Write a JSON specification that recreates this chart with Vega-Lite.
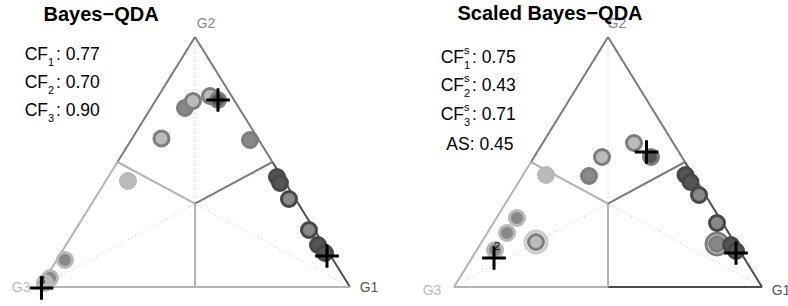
{
  "$schema": "https://vega.github.io/schema/vega-lite/v6.json",
  "padding": 0,
  "background": "white",
  "spacing": 0,
  "bounds": "flush",
  "config": {"view": {"stroke": null}, "font": "Liberation Sans"},
  "datasets": {
    "segs": [
      {"panel": "L", "kind": "edge", "cls": "G3", "x": 0, "y": 0, "x2": 0.25, "y2": 0.5},
      {"panel": "L", "kind": "edge", "cls": "G2", "x": 0.25, "y": 0.5, "x2": 0.5, "y2": 1},
      {"panel": "L", "kind": "edge", "cls": "G2", "x": 0.5, "y": 1, "x2": 0.75, "y2": 0.5},
      {"panel": "L", "kind": "edge", "cls": "G1", "x": 0.75, "y": 0.5, "x2": 1, "y2": 0},
      {"panel": "L", "kind": "edge", "cls": "G3", "x": 1, "y": 0, "x2": 0.5, "y2": 0},
      {"panel": "L", "kind": "edge", "cls": "G3", "x": 0.5, "y": 0, "x2": 0, "y2": 0},
      {"panel": "L", "kind": "inner", "cls": "G3", "x": 0.5, "y": 0.3333, "x2": 0.25, "y2": 0.5},
      {"panel": "L", "kind": "inner", "cls": "G2", "x": 0.5, "y": 0.3333, "x2": 0.75, "y2": 0.5},
      {"panel": "L", "kind": "inner", "cls": "G3", "x": 0.5, "y": 0.3333, "x2": 0.5, "y2": 0},
      {"panel": "L", "kind": "dot", "cls": "G3", "x": 0.5, "y": 1, "x2": 0.5, "y2": 0.3333},
      {"panel": "L", "kind": "dot", "cls": "G3", "x": 0, "y": 0, "x2": 0.5, "y2": 0.3333},
      {"panel": "L", "kind": "dot", "cls": "G3", "x": 1, "y": 0, "x2": 0.5, "y2": 0.3333},
      {"panel": "R", "kind": "edge", "cls": "G3", "x": 0, "y": 0, "x2": 0.25, "y2": 0.5},
      {"panel": "R", "kind": "edge", "cls": "G2", "x": 0.25, "y": 0.5, "x2": 0.5, "y2": 1},
      {"panel": "R", "kind": "edge", "cls": "G2", "x": 0.5, "y": 1, "x2": 0.75, "y2": 0.5},
      {"panel": "R", "kind": "edge", "cls": "G1", "x": 0.75, "y": 0.5, "x2": 1, "y2": 0},
      {"panel": "R", "kind": "edge", "cls": "G1", "x": 1, "y": 0, "x2": 0.5, "y2": 0},
      {"panel": "R", "kind": "edge", "cls": "G3", "x": 0.5, "y": 0, "x2": 0, "y2": 0},
      {"panel": "R", "kind": "inner", "cls": "G3", "x": 0.5, "y": 0.3333, "x2": 0.25, "y2": 0.5},
      {"panel": "R", "kind": "inner", "cls": "G2", "x": 0.5, "y": 0.3333, "x2": 0.75, "y2": 0.5},
      {"panel": "R", "kind": "inner", "cls": "G3", "x": 0.5, "y": 0.3333, "x2": 0.5, "y2": 0},
      {"panel": "R", "kind": "dot", "cls": "G3", "x": 0.5, "y": 1, "x2": 0.5, "y2": 0.3333},
      {"panel": "R", "kind": "dot", "cls": "G3", "x": 0, "y": 0, "x2": 0.5, "y2": 0.3333},
      {"panel": "R", "kind": "dot", "cls": "G3", "x": 1, "y": 0, "x2": 0.5, "y2": 0.3333}
    ],
    "points": [
      {"panel": "L", "x": 0.4677, "y": 0.716, "pred": "G2", "truth": "G2"},
      {"panel": "L", "x": 0.4935, "y": 0.744, "pred": "G3", "truth": "G2"},
      {"panel": "L", "x": 0.5484, "y": 0.764, "pred": "G3", "truth": "G2"},
      {"panel": "L", "x": 0.5742, "y": 0.748, "pred": "G1", "truth": "G2"},
      {"panel": "L", "x": 0.3919, "y": 0.594, "pred": "G3", "truth": "G2"},
      {"panel": "L", "x": 0.6774, "y": 0.588, "pred": "G2", "truth": "G2"},
      {"panel": "L", "x": 0.2839, "y": 0.424, "pred": "G3", "truth": "G3"},
      {"panel": "L", "x": 0.7645, "y": 0.44, "pred": "G1", "truth": "G1"},
      {"panel": "L", "x": 0.7742, "y": 0.416, "pred": "G1", "truth": "G1"},
      {"panel": "L", "x": 0.8032, "y": 0.352, "pred": "G2", "truth": "G1"},
      {"panel": "L", "x": 0.8677, "y": 0.228, "pred": "G2", "truth": "G1"},
      {"panel": "L", "x": 0.8968, "y": 0.168, "pred": "G1", "truth": "G1"},
      {"panel": "L", "x": 0.9194, "y": 0.136, "pred": "G1", "truth": "G1"},
      {"panel": "L", "x": 0.0806, "y": 0.108, "pred": "G2", "truth": "G3"},
      {"panel": "L", "x": 0.0323, "y": 0.036, "pred": "G2", "truth": "G3"},
      {"panel": "L", "x": 0.0161, "y": 0.016, "pred": "G3", "truth": "G3"},
      {"panel": "R", "x": 0.5844, "y": 0.576, "pred": "G3", "truth": "G2"},
      {"panel": "R", "x": 0.6396, "y": 0.52, "pred": "G1", "truth": "G2"},
      {"panel": "R", "x": 0.4805, "y": 0.52, "pred": "G3", "truth": "G2"},
      {"panel": "R", "x": 0.4383, "y": 0.444, "pred": "G2", "truth": "G2"},
      {"panel": "R", "x": 0.2987, "y": 0.448, "pred": "G3", "truth": "G3"},
      {"panel": "R", "x": 0.7516, "y": 0.448, "pred": "G1", "truth": "G1"},
      {"panel": "R", "x": 0.7679, "y": 0.42, "pred": "G1", "truth": "G1"},
      {"panel": "R", "x": 0.7955, "y": 0.368, "pred": "G2", "truth": "G1"},
      {"panel": "R", "x": 0.8539, "y": 0.256, "pred": "G2", "truth": "G1"},
      {"panel": "R", "x": 0.8539, "y": 0.172, "pred": "G2", "truth": "G2", "halo": "G1"},
      {"panel": "R", "x": 0.8994, "y": 0.168, "pred": "G1", "truth": "G1"},
      {"panel": "R", "x": 0.9156, "y": 0.144, "pred": "G1", "truth": "G1"},
      {"panel": "R", "x": 0.2045, "y": 0.276, "pred": "G2", "truth": "G3"},
      {"panel": "R", "x": 0.1721, "y": 0.216, "pred": "G2", "truth": "G3"},
      {"panel": "R", "x": 0.1331, "y": 0.148, "pred": "G2", "truth": "G3"},
      {"panel": "R", "x": 0.2662, "y": 0.18, "pred": "G3", "truth": "G2", "halo": "G3"}
    ],
    "crosses": [
      {"panel": "L", "x": 0.5742, "y": 0.748},
      {"panel": "L", "x": 0.9258, "y": 0.124},
      {"panel": "L", "x": 0.0048, "y": -0.004},
      {"panel": "R", "x": 0.625, "y": 0.54},
      {"panel": "R", "x": 0.9156, "y": 0.136},
      {"panel": "R", "x": 0.1299, "y": 0.116}
    ],
    "labels": [
      {"panel": "L", "role": "title", "text": "Bayes−QDA", "x": 0.197, "y": 1.066},
      {"panel": "R", "role": "title", "text": "Scaled Bayes−QDA", "x": 0.3117, "y": 1.068},
      {"panel": "L", "role": "vertex", "cls": "G2", "text": "G2", "x": 0.5355, "y": 1.052},
      {"panel": "L", "role": "vertex", "cls": "G3", "text": "G3", "x": -0.0613, "y": -0.004},
      {"panel": "L", "role": "vertex", "cls": "G1", "text": "G1", "x": 1.0613, "y": -0.004},
      {"panel": "R", "role": "vertex", "cls": "G2", "text": "G2", "x": 0.529, "y": 1.052},
      {"panel": "R", "role": "vertex", "cls": "G3", "text": "G3", "x": -0.0714, "y": -0.016},
      {"panel": "R", "role": "vertex", "cls": "G1", "text": "G1", "x": 1.0617, "y": -0.016},
      {"panel": "R", "role": "right", "text": "AS: 0.45", "x": 0.1932, "y": 0.548},
      {"panel": "L", "role": "digit", "text": "1", "x": 0.9258, "y": 0.132},
      {"panel": "L", "role": "digit", "text": "3", "x": 0.0065, "y": 0.024},
      {"panel": "R", "role": "digit", "text": "2", "x": 0.1396, "y": 0.16}
    ],
    "cf": [
      {"panel": "L", "x": 0.0516, "y": 0.908, "main": "CF", "sub": "1", "sup": "", "value": ": 0.77"},
      {"panel": "L", "x": 0.0516, "y": 0.796, "main": "CF", "sub": "2", "sup": "", "value": ": 0.70"},
      {"panel": "L", "x": 0.0516, "y": 0.684, "main": "CF", "sub": "3", "sup": "", "value": ": 0.90"},
      {"panel": "R", "x": 0.0585, "y": 0.898, "main": "CF", "sub": "1", "sup": "s", "value": ": 0.75"},
      {"panel": "R", "x": 0.0585, "y": 0.784, "main": "CF", "sub": "2", "sup": "s", "value": ": 0.43"},
      {"panel": "R", "x": 0.0585, "y": 0.67, "main": "CF", "sub": "3", "sup": "s", "value": ": 0.71"}
    ]
  },
  "hconcat": [
    {
      "width": 394,
      "height": 306,
      "encoding": {
        "x": {"field": "x", "type": "quantitative", "scale": {"domain": [-0.129, 1.142], "nice": false, "zero": false}, "axis": null},
        "y": {"field": "y", "type": "quantitative", "scale": {"domain": [-0.076, 1.148], "nice": false, "zero": false}, "axis": null}
      },
      "layer": [
        {"data": {"name": "segs"}, "transform": [{"filter": "datum.panel === 'L' && datum.kind === 'dot'"}],
         "mark": {"type": "rule", "color": "#c4c4c4", "strokeWidth": 1, "strokeDash": [1, 3]},
         "encoding": {"x2": {"field": "x2"}, "y2": {"field": "y2"}}},
        {"data": {"name": "segs"}, "transform": [{"filter": "datum.panel === 'L' && datum.kind !== 'dot'"}],
         "mark": {"type": "rule", "strokeWidth": 2},
         "encoding": {"x2": {"field": "x2"}, "y2": {"field": "y2"},
           "color": {"field": "cls", "type": "nominal", "scale": {"domain": ["G1", "G2", "G3"], "range": ["#4d4d4d", "#7a7a7a", "#b3b3b3"]}, "legend": null}}},
        {"data": {"name": "points"}, "transform": [{"filter": "datum.panel === 'L' && datum.halo"}],
         "mark": {"type": "point", "shape": "circle", "filled": true, "fill": "white", "size": 480, "strokeWidth": 3},
         "encoding": {"stroke": {"field": "halo", "type": "nominal", "scale": {"domain": ["G1", "G2", "G3"], "range": ["#474747", "#7d7d7d", "#b8b8b8"]}, "legend": null}}},
        {"data": {"name": "points"}, "transform": [{"filter": "datum.panel === 'L'"}],
         "mark": {"type": "point", "shape": "circle", "filled": true, "opacity": 1, "size": 225, "strokeWidth": 3},
         "encoding": {
           "fill": {"field": "pred", "type": "nominal", "scale": {"domain": ["G1", "G2", "G3"], "range": ["#555555", "#888888", "#bbbbbb"]}, "legend": null},
           "stroke": {"field": "truth", "type": "nominal", "scale": {"domain": ["G1", "G2", "G3"], "range": ["#474747", "#7d7d7d", "#b8b8b8"]}, "legend": null}}},
        {"data": {"name": "crosses"}, "transform": [{"filter": "datum.panel === 'L'"}],
         "mark": {"type": "point", "shape": "M-1,0H1M0,-1V1", "filled": false, "stroke": "black", "strokeWidth": 3, "size": 560, "opacity": 1}},
        {"data": {"name": "labels"}, "transform": [{"filter": "datum.panel === 'L' && datum.role === 'digit'"}],
         "mark": {"type": "text", "fontSize": 11, "color": "black", "align": "center", "baseline": "middle"},
         "encoding": {"text": {"field": "text"}}},
        {"data": {"name": "labels"}, "transform": [{"filter": "datum.panel === 'L' && datum.role === 'vertex'"}],
         "mark": {"type": "text", "fontSize": 14, "align": "center", "baseline": "middle"},
         "encoding": {"text": {"field": "text"},
           "fill": {"field": "cls", "type": "nominal", "scale": {"domain": ["G1", "G2", "G3"], "range": ["#555555", "#888888", "#bbbbbb"]}, "legend": null}}},
        {"data": {"name": "labels"}, "transform": [{"filter": "datum.panel === 'L' && datum.role === 'title'"}],
         "mark": {"type": "text", "fontSize": 20, "fontWeight": "bold", "color": "black", "align": "center", "baseline": "alphabetic"},
         "encoding": {"text": {"field": "text"}}},
        {"data": {"name": "cf"}, "transform": [{"filter": "datum.panel === 'L'"}],
         "mark": {"type": "text", "fontSize": 17.5, "color": "black", "align": "right", "baseline": "alphabetic", "dx": -8},
         "encoding": {"text": {"field": "main"}}},
        {"data": {"name": "cf"}, "transform": [{"filter": "datum.panel === 'L'"}],
         "mark": {"type": "text", "fontSize": 11, "color": "black", "align": "left", "baseline": "alphabetic", "dx": -8, "dy": 6},
         "encoding": {"text": {"field": "sub"}}},
        {"data": {"name": "cf"}, "transform": [{"filter": "datum.panel === 'L'"}],
         "mark": {"type": "text", "fontSize": 17.5, "color": "black", "align": "left", "baseline": "alphabetic"},
         "encoding": {"text": {"field": "value"}}}
      ]
    },
    {
      "width": 394,
      "height": 306,
      "encoding": {
        "x": {"field": "x", "type": "quantitative", "scale": {"domain": [-0.1948, 1.0844], "nice": false, "zero": false}, "axis": null},
        "y": {"field": "y", "type": "quantitative", "scale": {"domain": [-0.076, 1.148], "nice": false, "zero": false}, "axis": null}
      },
      "layer": [
        {"data": {"name": "segs"}, "transform": [{"filter": "datum.panel === 'R' && datum.kind === 'dot'"}],
         "mark": {"type": "rule", "color": "#c4c4c4", "strokeWidth": 1, "strokeDash": [1, 3]},
         "encoding": {"x2": {"field": "x2"}, "y2": {"field": "y2"}}},
        {"data": {"name": "segs"}, "transform": [{"filter": "datum.panel === 'R' && datum.kind !== 'dot'"}],
         "mark": {"type": "rule", "strokeWidth": 2},
         "encoding": {"x2": {"field": "x2"}, "y2": {"field": "y2"},
           "color": {"field": "cls", "type": "nominal", "scale": {"domain": ["G1", "G2", "G3"], "range": ["#4d4d4d", "#7a7a7a", "#b3b3b3"]}, "legend": null}}},
        {"data": {"name": "points"}, "transform": [{"filter": "datum.panel === 'R' && datum.halo"}],
         "mark": {"type": "point", "shape": "circle", "filled": true, "fill": "white", "size": 480, "strokeWidth": 3},
         "encoding": {"stroke": {"field": "halo", "type": "nominal", "scale": {"domain": ["G1", "G2", "G3"], "range": ["#474747", "#7d7d7d", "#b8b8b8"]}, "legend": null}}},
        {"data": {"name": "points"}, "transform": [{"filter": "datum.panel === 'R'"}],
         "mark": {"type": "point", "shape": "circle", "filled": true, "opacity": 1, "size": 225, "strokeWidth": 3},
         "encoding": {
           "fill": {"field": "pred", "type": "nominal", "scale": {"domain": ["G1", "G2", "G3"], "range": ["#555555", "#888888", "#bbbbbb"]}, "legend": null},
           "stroke": {"field": "truth", "type": "nominal", "scale": {"domain": ["G1", "G2", "G3"], "range": ["#474747", "#7d7d7d", "#b8b8b8"]}, "legend": null}}},
        {"data": {"name": "crosses"}, "transform": [{"filter": "datum.panel === 'R'"}],
         "mark": {"type": "point", "shape": "M-1,0H1M0,-1V1", "filled": false, "stroke": "black", "strokeWidth": 3, "size": 560, "opacity": 1}},
        {"data": {"name": "labels"}, "transform": [{"filter": "datum.panel === 'R' && datum.role === 'digit'"}],
         "mark": {"type": "text", "fontSize": 11, "color": "black", "align": "center", "baseline": "middle"},
         "encoding": {"text": {"field": "text"}}},
        {"data": {"name": "labels"}, "transform": [{"filter": "datum.panel === 'R' && datum.role === 'vertex'"}],
         "mark": {"type": "text", "fontSize": 14, "align": "center", "baseline": "middle"},
         "encoding": {"text": {"field": "text"},
           "fill": {"field": "cls", "type": "nominal", "scale": {"domain": ["G1", "G2", "G3"], "range": ["#555555", "#888888", "#bbbbbb"]}, "legend": null}}},
        {"data": {"name": "labels"}, "transform": [{"filter": "datum.panel === 'R' && datum.role === 'title'"}],
         "mark": {"type": "text", "fontSize": 20, "fontWeight": "bold", "color": "black", "align": "center", "baseline": "alphabetic"},
         "encoding": {"text": {"field": "text"}}},
        {"data": {"name": "labels"}, "transform": [{"filter": "datum.panel === 'R' && datum.role === 'right'"}],
         "mark": {"type": "text", "fontSize": 17.5, "color": "black", "align": "right", "baseline": "alphabetic"},
         "encoding": {"text": {"field": "text"}}},
        {"data": {"name": "cf"}, "transform": [{"filter": "datum.panel === 'R'"}],
         "mark": {"type": "text", "fontSize": 17.5, "color": "black", "align": "right", "baseline": "alphabetic", "dx": -8},
         "encoding": {"text": {"field": "main"}}},
        {"data": {"name": "cf"}, "transform": [{"filter": "datum.panel === 'R'"}],
         "mark": {"type": "text", "fontSize": 11, "color": "black", "align": "left", "baseline": "alphabetic", "dx": -8, "dy": 6},
         "encoding": {"text": {"field": "sub"}}},
        {"data": {"name": "cf"}, "transform": [{"filter": "datum.panel === 'R'"}],
         "mark": {"type": "text", "fontSize": 11, "color": "black", "align": "left", "baseline": "alphabetic", "dx": -8, "dy": -9},
         "encoding": {"text": {"field": "sup"}}},
        {"data": {"name": "cf"}, "transform": [{"filter": "datum.panel === 'R'"}],
         "mark": {"type": "text", "fontSize": 17.5, "color": "black", "align": "left", "baseline": "alphabetic"},
         "encoding": {"text": {"field": "value"}}}
      ]
    }
  ]
}
